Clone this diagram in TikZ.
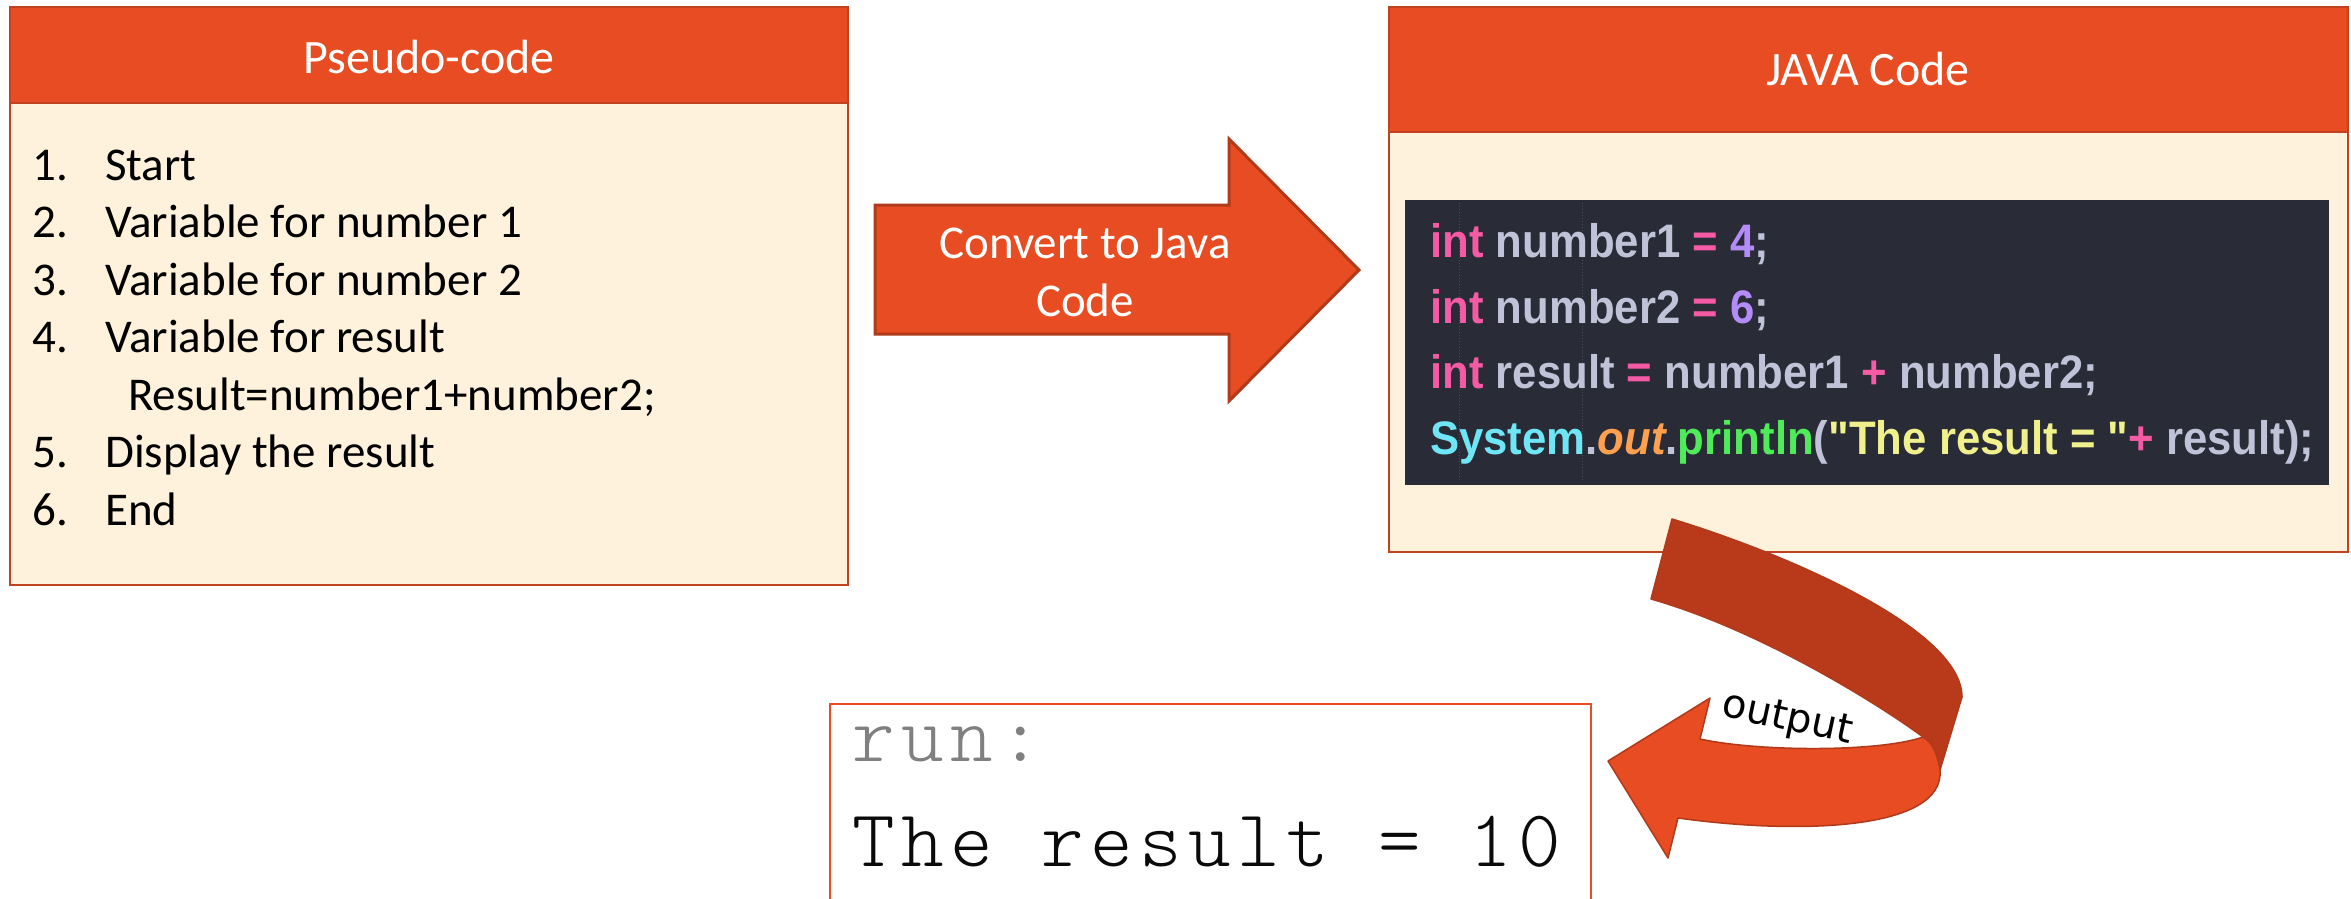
\documentclass[tikz,border=0pt]{standalone}
\usepackage{fontspec}
\setmainfont{Carlito}
\newfontfamily\codefont{Liberation Sans}[FakeStretch=0.93]
\newfontfamily\termfont{lmmonolt10-regular.otf}[LetterSpace=8]
\newfontfamily\labelfont{DejaVu Sans}
\definecolor{headfill}{RGB}{232,76,34}
\definecolor{boxline}{RGB}{192,66,30}
\definecolor{cream}{RGB}{255,242,220}
\definecolor{arrowline}{RGB}{176,58,26}
\definecolor{darkarrow}{RGB}{185,58,26}
\definecolor{codebg}{RGB}{41,43,55}
\definecolor{guide}{RGB}{75,77,92}
\definecolor{ident}{RGB}{192,194,216}
\definecolor{kw}{RGB}{245,90,165}
\definecolor{num}{RGB}{180,140,250}
\definecolor{cls}{RGB}{110,230,245}
\definecolor{fld}{RGB}{255,160,80}
\definecolor{mth}{RGB}{80,235,90}
\definecolor{str}{RGB}{240,240,140}
\definecolor{termgray}{RGB}{128,128,128}
\definecolor{termdark}{RGB}{10,10,10}
\begin{document}
\begin{tikzpicture}[x=1pt,y=-1pt,
  listtext/.style={anchor=base west,inner sep=0pt,font=\fontsize{47}{57}\selectfont,text=black},
  headtext/.style={inner sep=0pt,font=\fontsize{48}{57}\selectfont,text=white},
  codeline/.style={anchor=base west,inner sep=0pt,font=\codefont\bfseries\fontsize{47}{60}\selectfont,text=ident},
  termline/.style={anchor=base west,inner sep=0pt,font=\termfont\fontsize{81}{90}\selectfont},
  panel/.style={draw=boxline,line width=2.5pt,fill=cream},
  header/.style={draw=boxline,line width=2.5pt,fill=headfill},
  bigarrow/.style={fill=headfill,draw=arrowline,line width=3pt,line join=miter},
  bendarrow/.style={draw=arrowline,line width=1.5pt,line join=round}]
\useasboundingbox[fill=white] (0,0) rectangle (2351,898);

% ---------- Pseudo-code box ----------
\path[panel] (10,7) rectangle (848,585);
\path[header] (10,7) rectangle (848,103);
\node[headtext] (pseudotitle) at (429,57) {Pseudo-code};
\node[listtext] (n1) at (32,180) {1.};
\node[listtext] (t1) at (105,180) {Start};
\node[listtext] (n2) at (32,237) {2.};
\node[listtext] (t2) at (105,237) {Variable for number 1};
\node[listtext] (n3) at (32,295) {3.};
\node[listtext] (t3) at (105,295) {Variable for number 2};
\node[listtext] (n4) at (32,352) {4.};
\node[listtext] (t4) at (105,352) {Variable for result};
\node[listtext] (t4b) at (128,410) {Result=number1+number2;};
\node[listtext] (n5) at (32,467) {5.};
\node[listtext] (t5) at (105,467) {Display the result};
\node[listtext] (n6) at (32,525) {6.};
\node[listtext] (t6) at (105,525) {End};

% ---------- Convert arrow ----------
\path[bigarrow] (875,205) -- (1229,205) -- (1229,139) -- (1359,270) -- (1229,401) -- (1229,334) -- (875,334) -- cycle;
\node[inner sep=0pt,align=center,text=white,font=\fontsize{47}{58}\selectfont] (convert) at (1085,272) {Convert to Java\\Code};

% ---------- JAVA Code box ----------
\path[panel] (1389,7) rectangle (2348,552);
\path[header] (1389,7) rectangle (2348,132);
\node[headtext] (javatitle) at (1868,69) {JAVA Code};
\fill[codebg] (1405,200) rectangle (2329,485);
\draw[guide,line width=1pt,dotted] (1459,203) -- (1459,482);
\draw[guide,line width=1pt,dotted] (1582,203) -- (1582,482);
\node[codeline] (c1) at (1430,257) {\textcolor{kw}{int} number1 \textcolor{kw}{=} \textcolor{num}{4};};
\node[codeline] (c2) at (1430,323) {\textcolor{kw}{int} number2 \textcolor{kw}{=} \textcolor{num}{6};};
\node[codeline] (c3) at (1430,388) {\textcolor{kw}{int} result \textcolor{kw}{=} number1 \textcolor{kw}{+} number2;};
\node[codeline] (c4) at (1430,454) {\textcolor{cls}{System}.\textcolor{fld}{\itshape out}.\textcolor{mth}{println}(\textcolor{str}{"The result = "}\textcolor{kw}{+} result);};

% ---------- Output (bent) arrow ----------
\path[bendarrow,fill=darkarrow] (1672,519) .. controls (1790,555) and (1962,630) .. (1962,697)
  -- (1940,770) .. controls (1937,752) and (1932,742) .. (1923,737)
  .. controls (1880,705) and (1760,630) .. (1651,599) -- cycle;
\path[bendarrow,fill=headfill] (1923,737) .. controls (1880,752) and (1760,752) .. (1700,739)
  -- (1710,698) -- (1608,761) -- (1668,858) -- (1678,818)
  .. controls (1800,835) and (1945,830) .. (1940,770)
  .. controls (1937,752) and (1932,742) .. (1923,737) -- cycle;
\node[inner sep=0pt,rotate=-12,font=\labelfont\fontsize{40}{48}\selectfont] (outlabel) at (1787,720) {output};

% ---------- Terminal output ----------
\draw[headfill,line width=2pt] (830,905) -- (830,704) -- (1591,704) -- (1591,905);
\node[termline,text=termgray] (run) at (852,761) {run:};
\node[termline,text=termdark] (result) at (852,866) {The result = 10};
\end{tikzpicture}
\end{document}
